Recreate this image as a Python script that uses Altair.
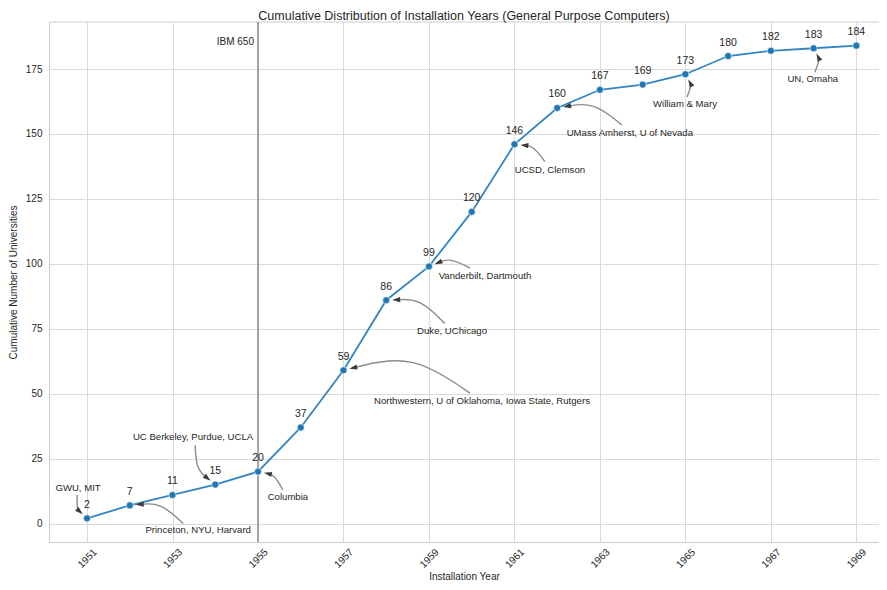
import math
import altair as alt
import pandas as pd

# ---------------- data ----------------
years = [1951, 1952, 1953, 1954, 1955, 1956, 1957, 1958, 1959, 1960,
         1961, 1962, 1963, 1964, 1965, 1966, 1967, 1968, 1969]
counts = [2, 7, 11, 15, 20, 37, 59, 86, 99, 120,
          146, 160, 167, 169, 173, 180, 182, 183, 184]

x_ticks = [1951, 1953, 1955, 1957, 1959, 1961, 1963, 1965, 1967, 1969]
y_ticks = [0, 25, 50, 75, 100, 125, 150, 175]

ann_labels = ["GWU, MIT", "Princeton, NYU, Harvard", "UC Berkeley, Purdue, UCLA",
              "Columbia", "Northwestern, U of Oklahoma, Iowa State, Rutgers",
              "Duke, UChicago", "Vanderbilt, Dartmouth", "UCSD, Clemson",
              "UMass Amherst, U of Nevada", "William & Mary", "UN, Omaha"]
ann_years = [1951, 1952, 1954, 1955, 1957, 1958, 1959, 1961, 1962, 1965, 1968]
ann_text_x = [1950.79, 1953.60, 1953.48, 1955.70, 1960.24, 1959.54, 1960.31,
              1961.83, 1963.70, 1964.99, 1967.98]
ann_text_y = [13.8, -2.3, 33.3, 10.3, 47.1, 74.3, 95.4, 136.3, 150.5, 161.6, 171.1]
ann_tail_x = [1950.77, 1953.25, 1953.53, 1955.58, 1959.96, 1959.37, 1959.96,
              1961.71, 1963.51, 1965.04, 1968.03]
ann_tail_y = [11.1, 0.0, 30.2, 13.0, 50.2, 77.0, 98.4, 139.4, 153.5, 164.2, 173.8]

event_year = 1955
event_label = "IBM 650"
event_label_y = 185.4

title = "Cumulative Distribution of Installation Years (General Purpose Computers)"

# ---------------- layout ----------------
X0, X1 = 1950.11, 1969.53
Y0, Y1 = -7.1, 193.1
W, H = 830, 520
FONT = "Liberation Sans, Arial, sans-serif"
TXT = "#262626"
SPINE = "#cccccc"


def px(x):
    return (x - X0) / (X1 - X0) * W


def py(y):
    return (Y1 - y) / (Y1 - Y0) * H


def dx_(p):
    return X0 + p / W * (X1 - X0)


def dy_(p):
    return Y1 - p / H * (Y1 - Y0)


count_of = dict(zip(years, counts))
rad = 0.3
curve_rows, head_rows = [], []
for i, yr in enumerate(ann_years):
    sx, sy = px(ann_tail_x[i]), py(ann_tail_y[i])
    ex, ey = px(yr), py(count_of[yr])
    ddx, ddy = ex - sx, ey - sy
    mx, my = (sx + ex) / 2, (sy + ey) / 2
    cx, cy = mx - rad * ddy, my + rad * ddx
    p1x, p1y = mx + 0.75 * (cx - mx), my + 0.75 * (cy - my)
    tx, ty = ex - p1x, ey - p1y
    n = math.hypot(tx, ty)
    ux, uy = tx / n, ty / n
    tipx, tipy = ex - 6 * ux, ey - 6 * uy
    hx, hy = tipx - 4 * ux, tipy - 4 * uy
    for k, (a, b) in enumerate([(sx, sy), (p1x, p1y), (hx, hy)]):
        curve_rows.append({"id": i, "k": k, "year": dx_(a), "count": dy_(b)})
    ang = math.degrees(math.atan2(ux, -uy)) % 360
    head_rows.append({"year": dx_(hx), "count": dy_(hy), "angle": ang})

df = pd.DataFrame({"year": years, "count": counts})
ann_df = pd.DataFrame({"label": ann_labels, "year": ann_text_x, "count": ann_text_y})
curve_df = pd.DataFrame(curve_rows)
head_df = pd.DataFrame(head_rows)
event_df = pd.DataFrame({"year": [event_year], "count": [event_label_y], "t": [event_label]})
top_df = pd.DataFrame({"count": [Y1]})

xs = alt.Scale(domain=[X0, X1], nice=False, zero=False)
ys = alt.Scale(domain=[Y0, Y1], nice=False, zero=False)

x_axis = alt.Axis(values=x_ticks, format="d", labelAngle=315, labelAlign="center",
                  labelBaseline="middle", labelPadding=16, ticks=False, tickSize=0,
                  domain=True, domainColor=SPINE, domainWidth=1,
                  labelFlush=False, labelOverlap=False,
                  title="Installation Year", titleY=34, titleBaseline="middle",
                  titleFontSize=10, titleFontWeight="normal", titleColor=TXT,
                  labelFontSize=10, labelColor=TXT, labelFont=FONT, titleFont=FONT,
                  gridColor="#dadada", gridWidth=1)
y_axis = alt.Axis(values=y_ticks, ticks=False, tickSize=0,
                  domain=True, domainColor=SPINE, domainWidth=1, labelPadding=7,
                  title="Cumulative Number of Universities", titleX=-36,
                  titleBaseline="middle", titleFontSize=10, titleFontWeight="normal",
                  titleColor=TXT, labelFontSize=10, labelColor=TXT, labelFont=FONT,
                  titleFont=FONT, gridColor="#dadada", gridWidth=1)

X = alt.X("year:Q", scale=xs, axis=x_axis)
Y = alt.Y("count:Q", scale=ys, axis=y_axis)

line = alt.Chart(df).mark_line(color="#3385c2", strokeWidth=1.8).encode(x=X, y=Y)

top_spine = alt.Chart(top_df).mark_rule(color=SPINE, strokeWidth=1).encode(y=Y)

rule = alt.Chart(event_df).mark_rule(color="#8a8a8a", strokeWidth=1.5).encode(x=X)

event_text = alt.Chart(event_df).mark_text(
    align="right", baseline="middle", dx=-4, fontSize=10, font=FONT, color=TXT).encode(
    x=X, y=Y, text="t:N")

curves = alt.Chart(curve_df).mark_line(interpolate="basis", color="#8c8c8c",
                                       strokeWidth=1.4).encode(
    x=X, y=Y, detail="id:N", order="k:Q")

heads = alt.Chart(head_df).mark_point(
    shape="M0,-1L0.65,1L-0.65,1Z", filled=True, size=64, color="#3a3a3a", opacity=1).encode(
    x=X, y=Y, angle=alt.Angle("angle:Q", scale=None))

points = alt.Chart(df).mark_point(filled=True, size=50, color="#1f77b4", opacity=1,
                                  stroke="white", strokeWidth=0.6).encode(x=X, y=Y)

values = alt.Chart(df).mark_text(baseline="middle", dy=-13.5, fontSize=10.5,
                                 font=FONT, color=TXT).encode(x=X, y=Y, text="count:Q")

ann_text = alt.Chart(ann_df).mark_text(baseline="middle", fontSize=9.6, font=FONT,
                                       color=TXT).encode(x=X, y=Y, text="label:N")

chart = alt.layer(line, top_spine, rule, event_text, curves, heads, points, values,
                  ann_text).properties(
    width=W, height=H,
    title=alt.TitleParams(title, fontSize=12.5, fontWeight="normal", color=TXT,
                          font=FONT, offset=2, dy=3),
    autosize=alt.AutoSizeParams(type="none"),
    padding={"left": 41, "top": 14, "right": 0, "bottom": 40},
).configure_view(stroke=None)

chart.save("out.html", embed_options={"renderer": "svg", "actions": False})
